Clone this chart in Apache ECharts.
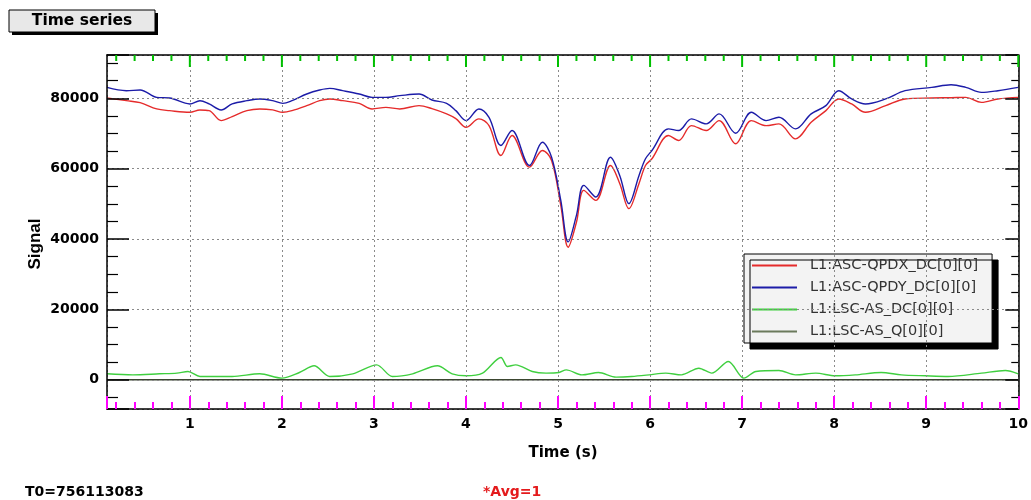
<!DOCTYPE html>
<html>
<head>
<meta charset="utf-8">
<script src="https://cdn.jsdelivr.net/npm/echarts@6/dist/echarts.min.js"></script>
<style>
html,body{margin:0;padding:0;background:#fff;}
#chart{width:1031px;height:500px;}
</style>
</head>
<body>
<div id="chart"></div>
<script>
// ---- data ----
const seriesNames = ['L1:ASC-QPDX_DC[0][0]', 'L1:ASC-QPDY_DC[0][0]', 'L1:LSC-AS_DC[0][0]', 'L1:LSC-AS_Q[0][0]'];

const timeQPD = [0.1,0.31,0.46,0.64,0.78,1.0,1.11,1.21,1.34,1.46,1.62,1.76,1.90,2.01,2.11,2.27,2.41,2.52,2.66,2.84,2.98,3.13,3.28,3.49,3.63,3.79,3.89,4.00,4.14,4.25,4.38,4.50,4.69,4.83,4.93,5.03,5.11,5.20,5.28,5.41,5.57,5.67,5.77,5.88,5.95,6.02,6.20,6.31,6.45,6.61,6.75,6.93,7.10,7.26,7.40,7.58,7.75,7.91,8.05,8.19,8.34,8.56,8.77,9.06,9.27,9.43,9.60,9.78,10.0];

const qpdx = [80090,79320,78760,76970,76490,76010,76690,76490,73660,74790,76490,76970,76690,76010,76490,77910,79320,79810,79320,78560,76970,77430,76970,77910,77060,75560,74220,71760,74140,72240,63740,69410,60430,65160,62330,49580,37680,44760,53830,50990,60910,55810,48640,55810,60910,62810,69410,67990,72240,70830,73660,67060,73660,72240,72720,68470,73180,76490,79810,78390,76010,77910,79810,80090,80170,80260,78840,79810,80260];

const qpdy = [83090,82160,82350,80260,80090,78390,79320,78390,76690,78390,79320,79810,79320,78560,79320,81220,82350,82810,82160,81220,80260,80260,80740,81220,79520,78560,76490,73660,76970,74590,66580,70830,60910,67510,63260,50990,39180,46740,55240,51930,63260,58080,50060,58080,62810,65160,71310,70830,74140,72720,75560,70060,76010,73660,74590,71310,75560,77910,82160,79810,78390,79810,82160,83090,83860,83090,81680,82160,83090];

const timeAS = [0.1,0.38,0.67,0.86,0.98,1.11,1.46,1.76,2.00,2.19,2.35,2.52,2.77,3.03,3.20,3.42,3.69,3.85,4.00,4.18,4.38,4.45,4.54,4.72,4.87,5.01,5.09,5.26,5.44,5.63,5.80,5.99,6.17,6.34,6.53,6.67,6.85,7.02,7.15,7.40,7.58,7.80,8.01,8.23,8.51,8.73,8.99,9.24,9.60,9.86,10.0];

const asDC = [1700,1400,1700,1900,2360,940,940,1700,470,2070,3970,940,1700,4250,940,1700,3970,1700,1130,1900,6320,3780,4250,2360,1900,2070,2830,1400,2070,760,940,1400,1900,1400,3300,1900,5200,470,2360,2640,1400,1900,1130,1400,2070,1400,1130,940,1900,2640,1700];

const timeQ = [0.1, 2.5, 5.0, 7.5, 10.0];
const asQ = [0, 0, 0, 0, 0];

const xTicks = [1,2,3,4,5,6,7,8,9,10];
const xMinorTicks = [0.2,0.4,0.6,0.8,1.2,1.4,1.6,1.8,2.2,2.4,2.6,2.8,3.2,3.4,3.6,3.8,4.2,4.4,4.6,4.8,5.2,5.4,5.6,5.8,6.2,6.4,6.6,6.8,7.2,7.4,7.6,7.8,8.2,8.4,8.6,8.8,9.2,9.4,9.6,9.8];
const yTicks = [0,20000,40000,60000,80000];

const titleText = 'Time series';
const xTitle = 'Time (s)';
const yTitle = 'Signal';
const t0Text = 'T0=756113083';
const avgText = '*Avg=1';
// ----------------------------------------------

const X_MIN = 0.1, X_MAX = 10, Y_MIN = -8300, Y_MAX = 92300;
const pairs = (t, v) => t.map((x, i) => [x, v[i]]);
const lblFont = 'DejaVu Sans';

const chart = echarts.init(document.getElementById('chart'), null, {renderer: 'canvas'});

const xCommon = {
  type: 'value', min: X_MIN, max: X_MAX, minInterval: 1, maxInterval: 1, splitNumber: 10, z: 5
};
const yCommon = {
  type: 'value', min: Y_MIN, max: Y_MAX, minInterval: 20000, maxInterval: 20000, splitNumber: 5, z: 5
};

const staticGraphics = [
  {type: 'rect', shape: {x: 12, y: 13, width: 146, height: 22}, style: {fill: '#000'}, z: 100},
  {type: 'rect', shape: {x: 9, y: 10, width: 146, height: 22}, style: {fill: '#e8e8e8', stroke: '#000', lineWidth: 1}, z: 101},
  {type: 'text', x: 82, y: 21, z: 102,
   style: {text: titleText, align: 'center', verticalAlign: 'middle', font: 'bold 15.5px "DejaVu Sans"', fill: '#000'}},
  {type: 'text', x: 35, y: 244, rotation: Math.PI / 2, z: 102,
   style: {text: yTitle, align: 'center', verticalAlign: 'middle', font: 'bold 17px "Liberation Sans"', fill: '#000'}},
  {type: 'text', x: 563, y: 453, z: 102,
   style: {text: xTitle, align: 'center', verticalAlign: 'middle', font: 'bold 15px "DejaVu Sans"', fill: '#000'}},
  {type: 'text', x: 25, y: 492, z: 102,
   style: {text: t0Text, align: 'left', verticalAlign: 'middle', font: 'bold 14px "DejaVu Sans"', fill: '#000'}},
  {type: 'text', x: 483, y: 492, z: 102,
   style: {text: avgText, align: 'left', verticalAlign: 'middle', font: 'bold 14px "DejaVu Sans"', fill: '#e41a1c'}}
];

const option = {
  animation: false,
  backgroundColor: '#ffffff',
  grid: {left: 107, right: 11, top: 55, bottom: 91, show: false},
  xAxis: [
    Object.assign({}, xCommon, {
      position: 'bottom',
      axisLine: {show: true, onZero: false, lineStyle: {color: '#000', width: 1.5}},
      axisTick: {show: true, inside: true, length: 13, lineStyle: {color: '#ff00ff', width: 2}},
      minorTick: {show: true, splitNumber: 5, length: 7, lineStyle: {color: '#ff00ff', width: 2}},
      splitLine: {show: true, lineStyle: {color: '#8a8a8a', width: 1, type: [2, 3]}},
      axisLabel: {
        show: true, margin: 8, color: '#000', fontFamily: lblFont, fontWeight: 'bold', fontSize: 14,
        formatter: v => (xTicks.indexOf(Math.round(v * 1000) / 1000) >= 0 ? String(Math.round(v)) : '')
      }
    }),
    Object.assign({}, xCommon, {
      position: 'top',
      axisLine: {show: true, onZero: false, lineStyle: {color: '#000', width: 1.5}},
      axisTick: {show: false},
      minorTick: {show: false},
      splitLine: {show: false},
      axisLabel: {show: false}
    })
  ],
  yAxis: [
    Object.assign({}, yCommon, {
      position: 'left',
      axisLine: {show: true, onZero: false, lineStyle: {color: '#000', width: 1.5}},
      axisTick: {show: true, inside: true, length: 22, lineStyle: {color: '#000', width: 1.5}},
      minorTick: {show: true, splitNumber: 4, length: 11, lineStyle: {color: '#000', width: 1.2}},
      splitLine: {show: true, lineStyle: {color: '#8a8a8a', width: 1, type: [2, 3]}},
      axisLabel: {
        show: true, margin: 8, color: '#000', fontFamily: lblFont, fontWeight: 'bold', fontSize: 14,
        formatter: v => (yTicks.indexOf(Math.round(v)) >= 0 ? String(Math.round(v)) : '')
      }
    }),
    Object.assign({}, yCommon, {
      position: 'right',
      axisLine: {show: true, onZero: false, lineStyle: {color: '#000', width: 1.5}},
      axisTick: {show: true, inside: true, length: 13, lineStyle: {color: '#000', width: 1.5}},
      minorTick: {show: true, splitNumber: 4, length: 7, lineStyle: {color: '#000', width: 1.2}},
      splitLine: {show: false},
      axisLabel: {show: false}
    })
  ],
  legend: {
    orient: 'vertical', left: 744, top: 254,
    padding: [4, 14, 4, 8], itemGap: 7, itemWidth: 45, itemHeight: 2, icon: 'rect',
    backgroundColor: '#f3f3f3', borderColor: '#000', borderWidth: 1,
    shadowColor: '#000', shadowOffsetX: 6, shadowOffsetY: 6, shadowBlur: 0.01,
    textStyle: {fontFamily: lblFont, fontSize: 14.5, color: '#333', padding: [0, 0, 0, 8], lineHeight: 14},
    data: seriesNames
  },
  series: [
    {name: seriesNames[0], type: 'line', data: pairs(timeQPD, qpdx), showSymbol: false, symbol: 'none', smooth: 0.35,
     lineStyle: {color: '#e52b2b', width: 1.4}, itemStyle: {color: '#e52b2b'}},
    {name: seriesNames[1], type: 'line', data: pairs(timeQPD, qpdy), showSymbol: false, symbol: 'none', smooth: 0.35,
     lineStyle: {color: '#1c1ca8', width: 1.4}, itemStyle: {color: '#1c1ca8'}},
    {name: seriesNames[2], type: 'line', data: pairs(timeAS, asDC), showSymbol: false, symbol: 'none', smooth: 0.3,
     lineStyle: {color: '#3fcf3f', width: 1.4}, itemStyle: {color: '#3fcf3f'}},
    {name: seriesNames[3], type: 'line', data: pairs(timeQ, asQ), showSymbol: false, symbol: 'none',
     lineStyle: {color: '#3b4630', width: 1.4}, itemStyle: {color: '#6b7a5c'}}
  ],
  graphic: staticGraphics
};
chart.setOption(option);

// top-edge tick marks placed through the chart's own x scale
try {
  const tickGraphics = [];
  const addTick = (t, major) => {
    const pt = chart.convertToPixel({gridIndex: 0}, [t, Y_MAX]);
    const lt = major ? 12 : 6;
    tickGraphics.push({type: 'line', z: 50, shape: {x1: pt[0], y1: pt[1], x2: pt[0], y2: pt[1] + lt}, style: {stroke: '#00c000', lineWidth: 2}});
  };
  xTicks.forEach(t => addTick(t, true));
  xMinorTicks.forEach(t => addTick(t, false));
  chart.setOption({graphic: staticGraphics.concat(tickGraphics)});
} catch (e) { /* ignore */ }
</script>
</body>
</html>
